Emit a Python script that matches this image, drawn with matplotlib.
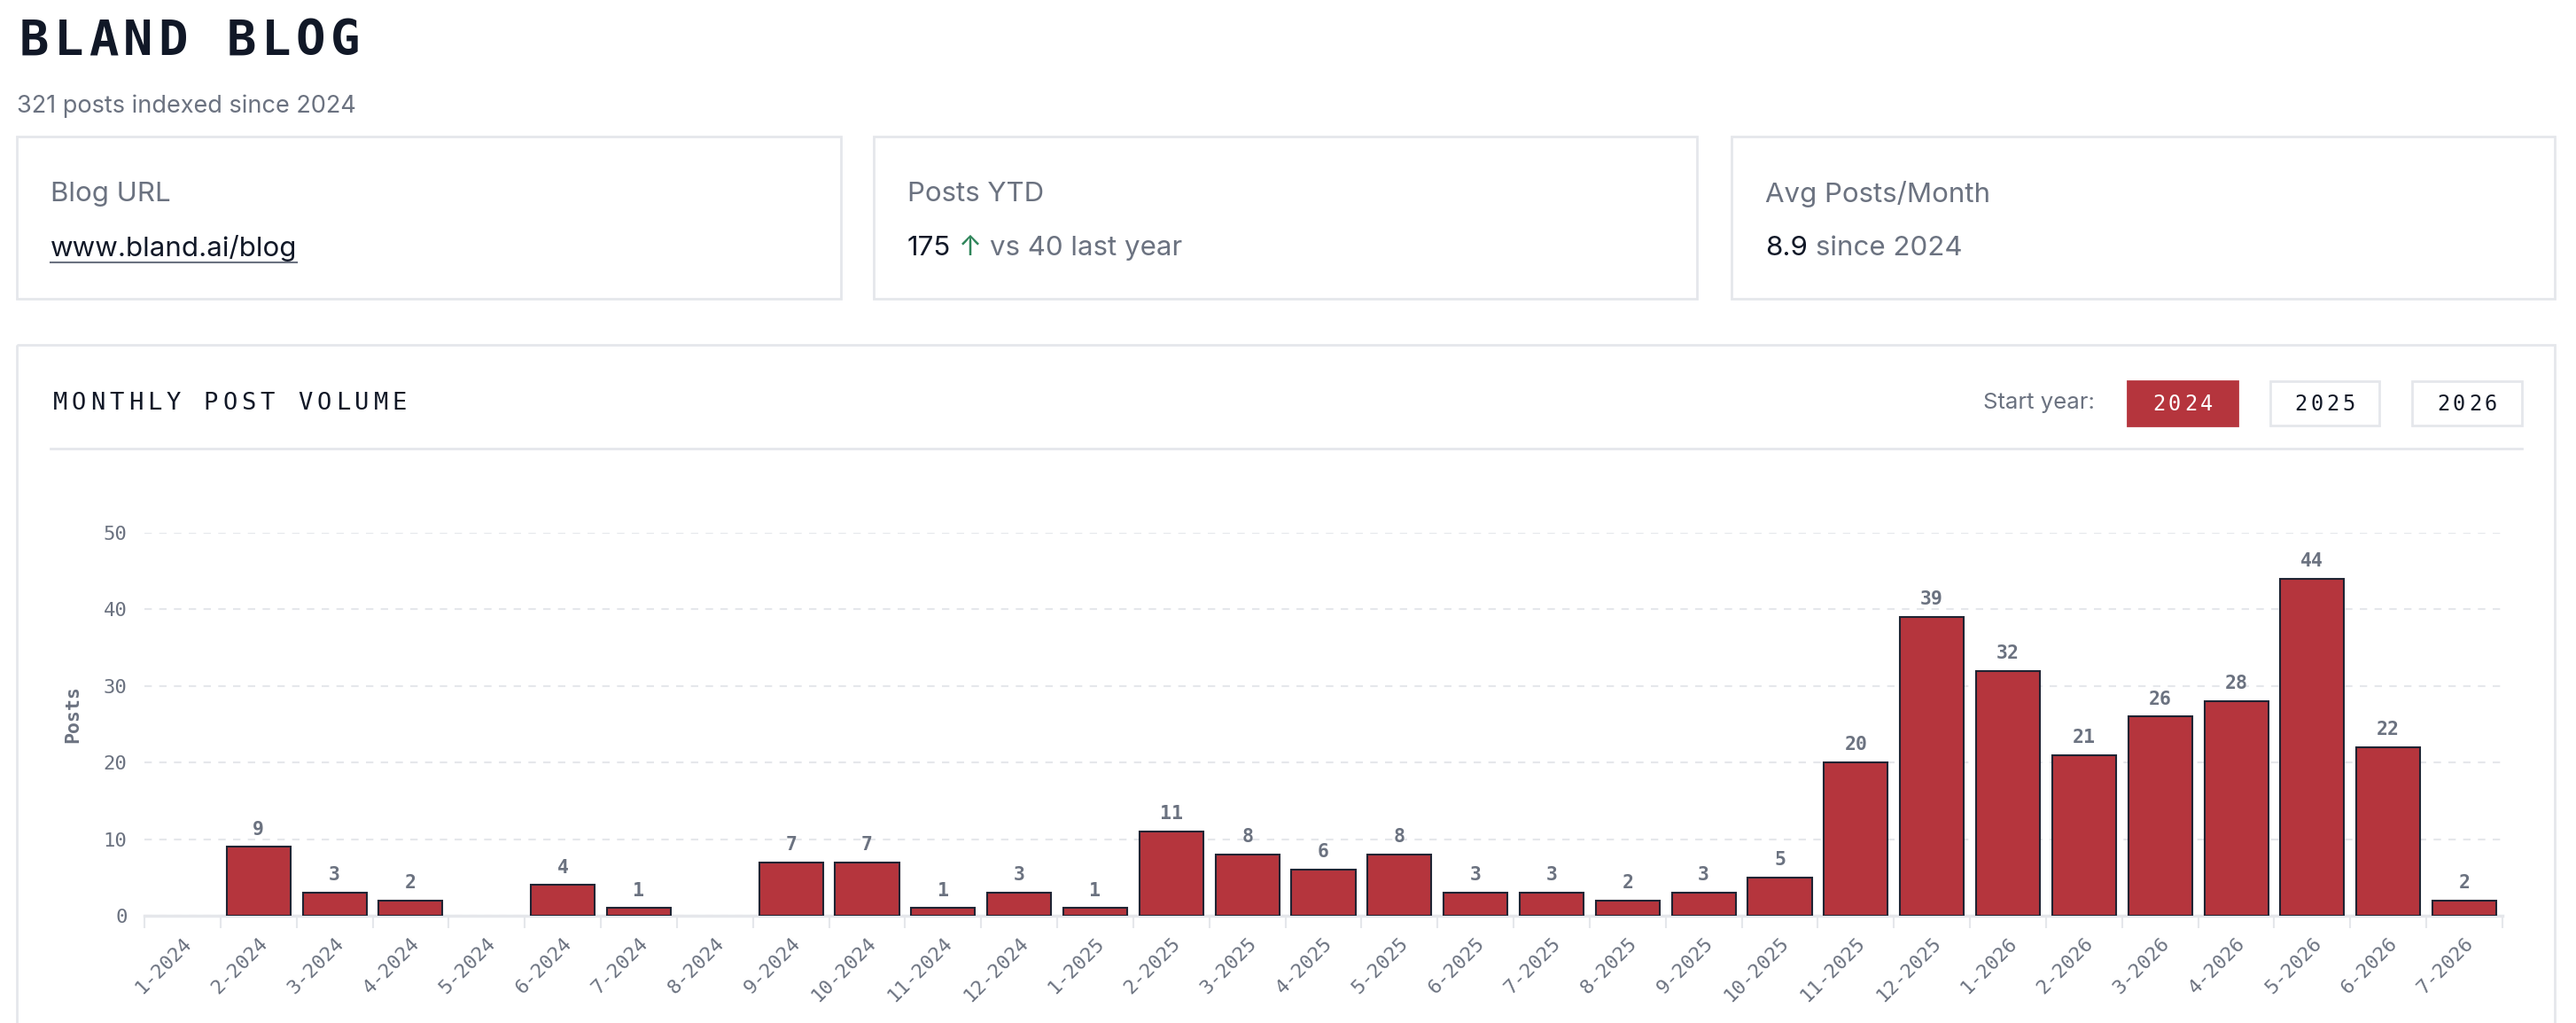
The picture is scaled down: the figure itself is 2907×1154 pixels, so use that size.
import matplotlib.pyplot as plt
import matplotlib.transforms as mtransforms
from matplotlib.patches import Rectangle
from matplotlib.lines import Line2D

# ------------------------------------------
# data
# ------------------------------------------
months = ['1-2024', '2-2024', '3-2024', '4-2024', '5-2024', '6-2024', '7-2024',
          '8-2024', '9-2024', '10-2024', '11-2024', '12-2024',
          '1-2025', '2-2025', '3-2025', '4-2025', '5-2025', '6-2025', '7-2025',
          '8-2025', '9-2025', '10-2025', '11-2025', '12-2025',
          '1-2026', '2-2026', '3-2026', '4-2026', '5-2026', '6-2026', '7-2026']
posts = [0, 9, 3, 2, 0, 4, 1, 0, 7, 7, 1, 3,
         1, 11, 8, 6, 8, 3, 3, 2, 3, 5, 20, 39,
         32, 21, 26, 28, 44, 22, 2]
year_buttons = ['2024', '2025', '2026']
y_ticks = [0, 10, 20, 30, 40, 50]

# ------------------------------------------
# style
# ------------------------------------------
W, H = 2907, 1154
RED = '#b5353d'
INK = '#111827'
GRAY = '#6b7280'
LINE = '#e5e7eb'
GREEN = '#2f855a'
EDGE = '#1f2433'
MONO = 'DejaVu Sans Mono'
SANS = 'Inter'

fig = plt.figure(figsize=(W / 100, H / 100), dpi=100)
fig.patch.set_facecolor('white')
# pixel coords, origin top-left
px = mtransforms.Affine2D().scale(1 / W, -1 / H).translate(0, 1) + fig.transFigure
renderer = fig.canvas.get_renderer()


def spaced(x, y, s, pitch, **kw):
    # monospace text with letter spacing
    for i, ch in enumerate(s):
        fig.text(x + i * pitch + pitch / 2, y, ch, transform=px, ha='center', va='center', **kw)


def rich(x, y, parts, size, gap=0.28):
    # draw coloured text segments one after the other
    for s, color in parts:
        t = fig.text(x, y, s, transform=px, ha='left', va='center', family=SANS,
                     size=size, color=color)
        bb = t.get_window_extent(renderer)
        x += bb.width + gap * size * 100 / 72
    return x


def box(x0, y0, x1, y1, fc='none', ec=LINE, lw=2):
    fig.add_artist(Rectangle((x0, y0), x1 - x0, y1 - y0, transform=px,
                             facecolor=fc, edgecolor=ec, linewidth=lw, zorder=0.5))


# header
spaced(19, 46, 'BLAND BLOG', 39, family=MONO, weight='bold', size=40, color=INK)
fig.text(19, 120, '321 posts indexed since 2024', transform=px, ha='left', va='center',
         family=SANS, size=19.5, color=GRAY)

# stat cards
cards = [(19, 949), (986, 1915), (1954, 2883)]
for x0, x1 in cards:
    box(x0, 154, x1, 337)

fig.text(57, 219, 'Blog URL', transform=px, ha='left', va='center', family=SANS, size=22.5, color=GRAY)
t = fig.text(57, 280, 'www.bland.ai/blog', transform=px, ha='left', va='center',
             family=SANS, size=22.5, color=INK)
bb = t.get_window_extent(renderer)
fig.add_artist(Line2D([57, 57 + bb.width], [296, 296], transform=px, color=GRAY, lw=1.5))

fig.text(1024, 219, 'Posts YTD', transform=px, ha='left', va='center', family=SANS, size=22.5, color=GRAY)
rich(1024, 280, [('175', INK), ('\u2191', GREEN), ('vs 40 last year', GRAY)], 22.5)

fig.text(1992, 219, 'Avg Posts/Month', transform=px, ha='left', va='center', family=SANS, size=22.5, color=GRAY)
rich(1992, 280, [('8.9', INK), ('since 2024', GRAY)], 22.5)

# chart panel
box(19, 389, 2883, 1200)
spaced(57, 455, 'MONTHLY POST VOLUME', 21.3, family=MONO, size=19.5, color=INK)
fig.add_artist(Line2D([57, 2846], [506, 506], transform=px, color=LINE, lw=2))

fig.text(2364, 455, 'Start year:', transform=px, ha='right', va='center', family=SANS,
         size=18.5, color=GRAY)
btn_x = [(2401, 2525), (2562, 2685), (2722, 2846)]
for (x0, x1), yr in zip(btn_x, year_buttons):
    active = yr == '2024'
    box(x0, 430, x1, 480, fc=RED if active else 'white', ec=RED if active else LINE)
    w = 4 * 18
    spaced((x0 + x1) / 2 - w / 2, 456, yr, 18, family=MONO, size=17,
           color='white' if active else INK)

# bar chart
ax = fig.add_axes([163 / W, 1 - 1033 / H, (2824 - 163) / W, (1033 - 601) / H])
ax.set_facecolor('none')
xs = list(range(len(posts)))
ax.bar(xs, posts, width=0.84, color=RED, edgecolor=EDGE,
       linewidth=[1.5 if v > 0 else 0 for v in posts], zorder=3)
for xi, v in zip(xs, posts):
    if v > 0:
        ax.annotate(str(v), (xi, v), xytext=(0, 7), textcoords='offset points',
                    ha='center', va='bottom', family=MONO, weight='bold', size=15.5, color=GRAY)

ax.set_xlim(-0.5, len(posts) - 0.5)
ax.set_ylim(0, 50)
ax.set_yticks(y_ticks)
ax.set_yticklabels([str(v) for v in y_ticks], family=MONO, size=16, color=GRAY)
ax.yaxis.grid(True, color=LINE, linestyle=(0, (4, 4)), linewidth=1.5, zorder=0)
ax.set_axisbelow(True)
for s in ['top', 'right', 'left']:
    ax.spines[s].set_visible(False)
ax.spines['bottom'].set_color(LINE)
ax.spines['bottom'].set_linewidth(2.5)

ax.set_xticks(xs)
ax.set_xticklabels(months, rotation=45, ha='right', rotation_mode='anchor',
                   family=MONO, size=16, color=GRAY)
ax.set_xticks([i - 0.5 for i in range(len(posts) + 1)], minor=True)
ax.tick_params(axis='x', which='major', length=0, pad=15)
ax.tick_params(axis='x', which='minor', length=10, width=1.5, color=LINE)
ax.tick_params(axis='y', length=0, pad=14)

fig.text(82, 806, 'Posts', transform=px, rotation=90, ha='center', va='center',
         family=MONO, weight='bold', size=15.5, color=GRAY)

fig.savefig('out.png', dpi=100, facecolor='white')
